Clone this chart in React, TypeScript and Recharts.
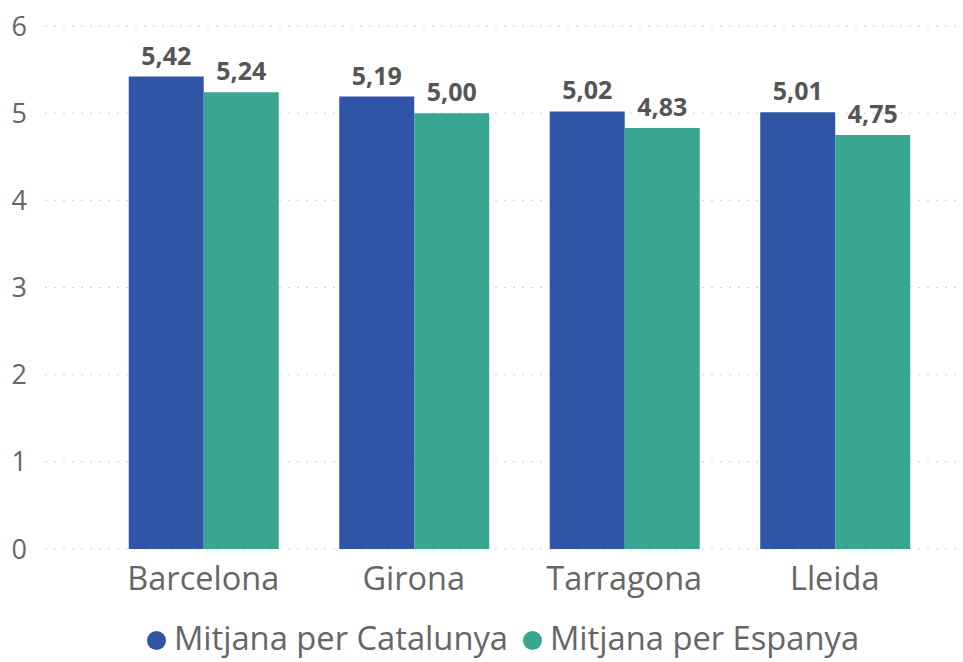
import React from "react";
import {
  BarChart,
  Bar,
  CartesianGrid,
  LabelList,
  Legend,
  XAxis,
  YAxis,
} from "recharts";

// provinces and averages
const provinces = ["Barcelona", "Girona", "Tarragona", "Lleida"];
const catalunya = [5.42, 5.19, 5.02, 5.01];
const espanya = [5.24, 5.0, 4.83, 4.75];
const yTicks = [0, 1, 2, 3, 4, 5, 6];

const seriesNames = ["Mitjana per Catalunya", "Mitjana per Espanya"];
const colors = ["#3155A6", "#38A690"];

const FONT = '"Segoe UI", "Open Sans", sans-serif';

const fmt = (v: any) => Number(v).toFixed(2).replace(".", ",");

// legend is centred over the plot area, not the whole svg
const LegendContent = ({ payload }: any) => (
  <div
    style={{
      display: "flex",
      justifyContent: "center",
      alignItems: "center",
      fontFamily: FONT,
      fontSize: 32.7,
      lineHeight: "40px",
      color: "#666",
      height: 40,
      marginTop: -4,
      paddingLeft: 45,
      whiteSpace: "nowrap",
    }}
  >
    {(payload || []).map((item: any, i: number) => (
      <div
        key={i}
        style={{ display: "flex", alignItems: "center", marginRight: i === 0 ? 15 : 0 }}
      >
        <span
          style={{
            width: 19,
            height: 19,
            borderRadius: "50%",
            background: item.color,
            display: "inline-block",
            marginRight: 8,
            marginTop: 4,
          }}
        />
        <span>{item.value}</span>
      </div>
    ))}
  </div>
);

const App = () => {
  const data = provinces.map((name, i) => ({
    name,
    cat: catalunya[i],
    esp: espanya[i],
  }));

  return (
    <div style={{ position: "absolute", left: 0, top: 0, background: "#fff" }}>
      <BarChart
        width={963}
        height={662}
        data={data}
        margin={{ top: 26, right: 2, left: 0, bottom: 0 }}
        barGap={0}
        barCategoryGap="14.6%"
      >
        <CartesianGrid
          vertical={false}
          stroke="#cfcfcf"
          strokeDasharray="2 7"
        />
        <XAxis
          dataKey="name"
          axisLine={false}
          tickLine={false}
          height={73}
          tickMargin={12}
          padding={{ left: 53, right: 21 }}
          tick={{ fill: "#666", fontSize: 32.5, fontFamily: FONT }}
        />
        <YAxis
          domain={[0, 6]}
          ticks={yTicks}
          axisLine={false}
          tickLine={false}
          width={45}
          tickMargin={12}
          tick={{ fill: "#666", fontSize: 27, fontFamily: FONT }}
        />
        <Legend
          verticalAlign="bottom"
          height={40}
          content={<LegendContent />}
        />
        <Bar
          dataKey="cat"
          name={seriesNames[0]}
          fill={colors[0]}
          isAnimationActive={false}
        >
          <LabelList
            dataKey="cat"
            position="top"
            offset={12}
            formatter={fmt}
            style={{ fill: "#555", fontSize: 25, fontWeight: 700, fontFamily: FONT }}
          />
        </Bar>
        <Bar
          dataKey="esp"
          name={seriesNames[1]}
          fill={colors[1]}
          isAnimationActive={false}
        >
          <LabelList
            dataKey="esp"
            position="top"
            offset={12}
            formatter={fmt}
            style={{ fill: "#555", fontSize: 25, fontWeight: 700, fontFamily: FONT }}
          />
        </Bar>
      </BarChart>
    </div>
  );
};

export default App;
